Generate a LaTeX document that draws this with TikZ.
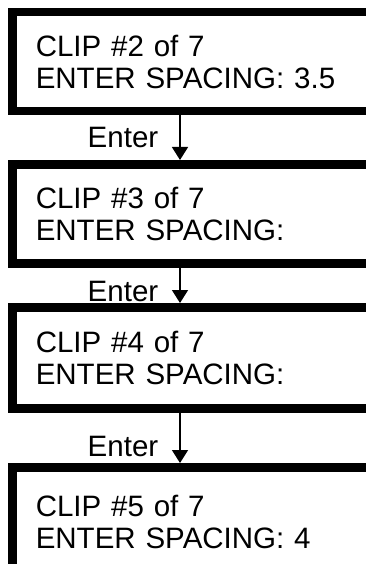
\documentclass[tikz,border=0pt]{standalone}
\usepackage{fontspec}
\setmainfont{Liberation Sans}
\usetikzlibrary{arrows.meta}
\begin{document}
\begin{tikzpicture}[x=1pt,y=-1pt,
  screen/.style={draw, line width=8.5pt, rectangle, anchor=north west,
    minimum width=420pt, text width=373pt, inner xsep=23.5pt, inner ysep=0pt,
    align=left, font=\fontsize{29.5}{32.5}\selectfont},
  flow/.style={-{Triangle[length=13pt,width=16pt]}, line width=1.5pt},
  keylabel/.style={anchor=base east, inner sep=0pt, xshift=-21pt,
    font=\fontsize{29.5}{32.5}\selectfont}]
  \useasboundingbox (0,0) rectangle (366,564);
  \clip (0,0) rectangle (366,564);
  \fill[white] (0,0) rectangle (366,564);

  % display screens, one per clip
  \node[screen, minimum height=99pt]  (s1) at (8,8)   {CLIP \#2 of 7\\ENTER SPACING: 3.5};
  \node[screen, minimum height=99pt]  (s2) at (8,160) {CLIP \#3 of 7\\ENTER SPACING:};
  \node[screen, minimum height=101pt] (s3) at (8,303) {CLIP \#4 of 7\\ENTER SPACING:};
  \node[screen, minimum height=109pt] (s4) at (8,463) {CLIP \#5 of 7\\ENTER SPACING: 4};

  % key presses between screens
  \coordinate (ax) at (180,0);
  \draw[flow] (s1.south -| ax) -- node[keylabel, pos=0.71] {Enter} (s2.north -| ax);
  \draw[flow] (s2.south -| ax) -- node[keylabel, pos=0.97] {Enter} (s3.north -| ax);
  \draw[flow] (s3.south -| ax) -- node[keylabel, pos=0.88] {Enter} (s4.north -| ax);
\end{tikzpicture}
\end{document}
